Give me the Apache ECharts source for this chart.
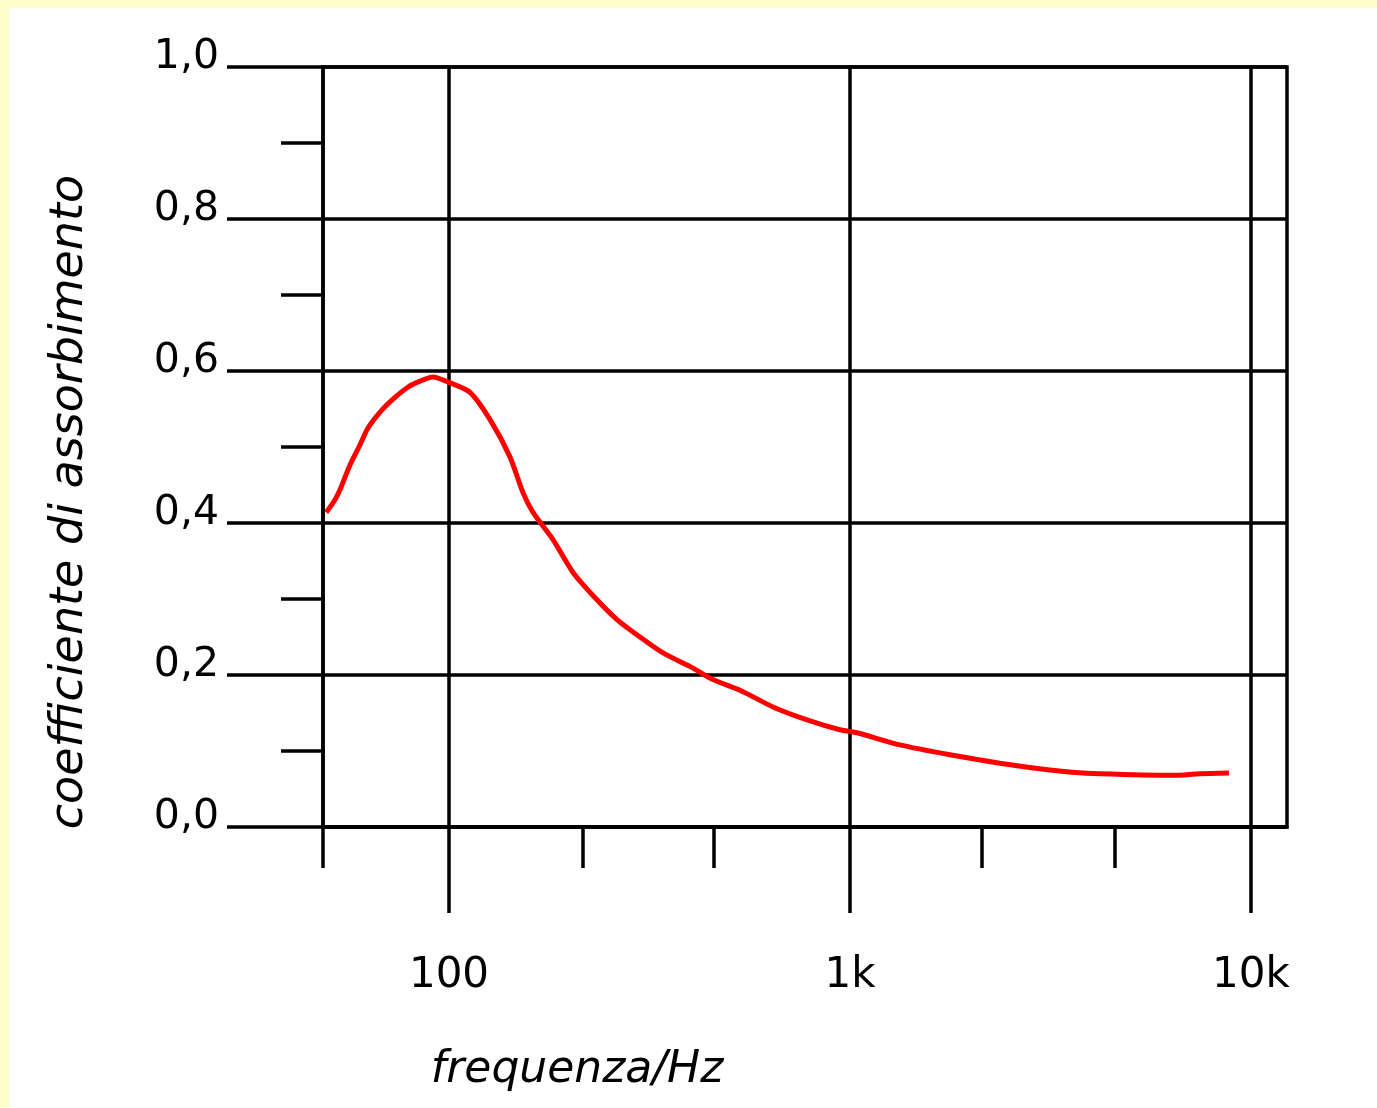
<!DOCTYPE html>
<html>
<head>
<meta charset="utf-8">
<script src="https://cdn.jsdelivr.net/npm/echarts@6/dist/echarts.min.js"></script>
<style>
  html, body { margin: 0; padding: 0; background: #FFFFCC; width: 1377px; height: 1108px; overflow: hidden; }
  #chart { position: absolute; left: 9px; top: 8px; width: 1368px; height: 1100px; background: #FFFFFF; }
</style>
</head>
<body>
<div id="chart"></div>
<script>
// ---- data ----
const freqs = [49.4, 52.0, 53.5, 56.6, 60.0, 62.8, 67.3, 72.5, 78.6, 83.2, 91.2, 100, 112.8, 126.6, 141.9, 152.9, 162, 181.7, 203.8, 233.9, 262.4, 299.5, 341.8, 406, 455.5, 531.8, 642.7, 781.3, 944.4, 1041, 1332, 1776, 2366, 3154, 3578, 4202, 6353, 7463, 8813];
const absorption = [0.414, 0.431, 0.444, 0.476, 0.503, 0.525, 0.546, 0.563, 0.578, 0.585, 0.592, 0.585, 0.572, 0.536, 0.487, 0.440, 0.414, 0.378, 0.335, 0.299, 0.273, 0.250, 0.229, 0.209, 0.194, 0.180, 0.158, 0.141, 0.128, 0.124, 0.108, 0.095, 0.084, 0.075, 0.072, 0.070, 0.068, 0.070, 0.071];
const xMajorTicks = [100, 1000, 10000];
const xMajorLabels = ['100', '1k', '10k'];
const xMinorTicks = [48.5, 216, 457, 2126, 4571];
const xMin = 48.5, xMax = 12300;
const yTitle = 'coefficiente di assorbimento';
const xTitle = 'frequenza/Hz';

const chart = echarts.init(document.getElementById('chart'), null, { renderer: 'canvas' });
const black = '#000000';
const font = 'DejaVu Sans';
const lw = 3.5;

const option = {
  backgroundColor: '#FFFFFF',
  animation: false,
  grid: {
    left: 314, top: 59, right: 90, bottom: 281,
    show: true, borderColor: black, borderWidth: lw, backgroundColor: 'transparent'
  },
  xAxis: [
    {
      type: 'log', logBase: 10, min: xMin, max: xMax, position: 'bottom',
      axisLine: { show: true, lineStyle: { color: black, width: lw } },
      axisTick: { show: true, customValues: xMajorTicks, length: 86, inside: false, lineStyle: { color: black, width: lw } },
      axisLabel: {
        show: true, customValues: xMajorTicks, margin: 128,
        color: black, fontFamily: font, fontSize: 42,
        formatter: function (v) {
          const i = xMajorTicks.findIndex(t => Math.abs(t - v) / t < 1e-6);
          return i >= 0 ? xMajorLabels[i] : '';
        }
      },
      splitLine: { show: true, lineStyle: { color: black, width: lw } },
      minorTick: { show: false }, minorSplitLine: { show: false },
      name: xTitle, nameLocation: 'middle', nameGap: 222,
      nameTextStyle: { color: black, fontFamily: font, fontSize: 44, fontStyle: 'italic', padding: [0, 456, 0, 0] }
    },
    {
      type: 'log', logBase: 10, min: xMin, max: xMax, position: 'bottom',
      axisLine: { show: false },
      axisTick: { show: true, customValues: xMinorTicks, length: 41, inside: false, lineStyle: { color: black, width: lw } },
      axisLabel: { show: false },
      splitLine: { show: false }
    }
  ],
  yAxis: {
    type: 'value', min: 0, max: 1, interval: 0.2,
    axisLine: { show: true, lineStyle: { color: black, width: lw } },
    axisTick: { show: true, length: 96, inside: false, lineStyle: { color: black, width: lw } },
    minorTick: { show: true, splitNumber: 2, length: 42, lineStyle: { color: black, width: lw } },
    splitLine: { show: true, lineStyle: { color: black, width: lw } },
    axisLabel: {
      margin: 104, color: black, fontFamily: font, fontSize: 41,
      verticalAlign: 'bottom', lineHeight: 20,
      formatter: v => v.toFixed(1).replace('.', ',')
    },
    name: yTitle, nameLocation: 'middle', nameGap: 230, nameRotate: 90,
    nameTextStyle: { color: black, fontFamily: font, fontSize: 46, fontStyle: 'italic', padding: [0, 110, 0, 0] }
  },
  series: [{
    type: 'line', xAxisIndex: 0, yAxisIndex: 0,
    data: freqs.map((f, i) => [f, absorption[i]]),
    showSymbol: false, smooth: 0.25,
    lineStyle: { color: '#FF0000', width: 5 },
    itemStyle: { color: '#FF0000' }
  }]
};
chart.setOption(option);
</script>
</body>
</html>
